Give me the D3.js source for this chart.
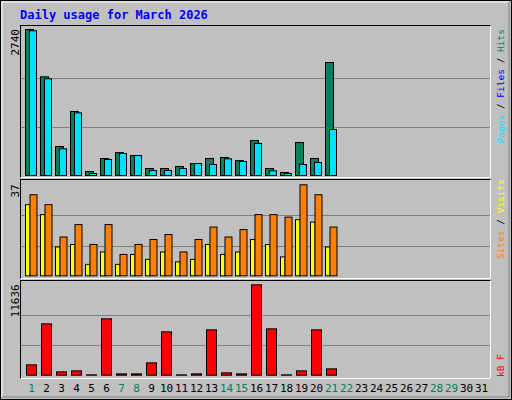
<!DOCTYPE html><html><head><meta charset="utf-8"><script src="https://cdn.jsdelivr.net/npm/d3@7"></script>
<style>body{margin:0;background:#fff}svg text{font-family:"DejaVu Sans Mono",monospace}</style></head><body><div id="c"></div>
<script>
const days=d3.range(1,32);
const weekend=[1,7,8,14,15,21,22,28,29];
const hits=[2740,1858,559,1212,93,336,447,391,149,149,186,242,336,354,298,671,149,75,634,336,2125];
const files=[2716,1821,516,1187,56,317,429,391,112,112,149,242,224,330,280,615,106,56,224,261,876];
const pages=[12,15,12,10,4,8,8,6,4,4,5,6,8,8,6,14,12,4,20,14,15];
const visits=[33,29,16,21,13,21,9,13,15,17,10,15,20,16,19,25,25,24,37,33,20];
const sites=[29,25,12,13,5,10,5,9,7,10,6,7,13,9,10,15,13,8,23,22,12];
const kbytes=[1444,6667,552,679,170,7304,297,297,1699,5648,170,297,5903,425,297,11636,6030,170,679,5903,934];
const maxLabels=["2740","37","11636"];

const svg=d3.select("#c").append("svg").attr("width",512).attr("height",400);
svg.append("rect").attr("x",0.5).attr("y",0.5).attr("width",511).attr("height",399).attr("fill","#c0c0c0").attr("stroke","#000");
svg.append("path").attr("d","M2,397V2H509").attr("fill","none").attr("stroke","#fff");
svg.append("path").attr("d","M2,397H509V2").attr("fill","none").attr("stroke","#808080");
svg.append("text").attr("x",20).attr("y",19).attr("fill","#0000ff").attr("font-size",12).attr("font-weight","bold").text("Daily usage for March 2026");

const x=d3.scaleBand().domain(days).range([24,489]);
const panels=[{y0:25,y1:178,top:29,base:176,max:2740},{y0:179,y1:279,top:184.3,base:276.3,max:37},{y0:280,y1:379,top:284.3,base:375.7,max:11636}];
panels.forEach((p,i)=>{
  svg.append("rect").attr("x",20.5).attr("y",p.y0+0.5).attr("width",470).attr("height",p.y1-p.y0-1).attr("fill","#c0c0c0").attr("stroke","#000");
  svg.append("path").attr("d",`M20.5,${p.y1-0.5}H490.5V${p.y0+0.5}`).attr("fill","none").attr("stroke","#fff");
  p.s=d3.scaleLinear().domain([0,p.max]).range([p.base,p.top]);
  [p.max/3,2*p.max/3].forEach(v=>svg.append("line").attr("x1",21).attr("x2",490).attr("y1",Math.round(p.s(v))+0.5).attr("y2",Math.round(p.s(v))+0.5).attr("stroke","#808080"));
  svg.append("text").attr("transform",`translate(19,${p.top}) rotate(-90)`).attr("text-anchor","end").attr("font-size",11).attr("fill","#000").text(maxLabels[i]);
});
function bars(data,s,off,w,fill){
  svg.append("g").selectAll("rect").data(data).join("rect")
   .attr("x",(d,i)=>x(i+1)+off+0.5).attr("width",w).attr("y",d=>s(d)+0.5).attr("height",d=>Math.max(0,s(0)-s(d)-1))
   .attr("fill",fill).attr("stroke","#000");
}
bars(hits,panels[0].s,1,8,"#00805c");
bars(files,panels[0].s,5,7,"#00e0ff");
bars(pages,panels[0].s,1,2,"#0000c0");
bars(sites,panels[1].s,1,4.5,"#ffff00");
bars(visits,panels[1].s,5.5,7,"#ff8000");
bars(kbytes,panels[2].s,2,10,"#ff0000");

svg.append("g").selectAll("text").data(days).join("text").attr("x",d=>x(d)+x.bandwidth()/2).attr("y",392).attr("text-anchor","middle").attr("font-size",11)
 .attr("fill",d=>weekend.includes(d)?"#00805c":"#000").text(d=>d);

function side(y,anchor,parts){
  const t=svg.append("text").attr("transform",`translate(504,${y}) rotate(-90)`).attr("font-size",9.5).attr("text-anchor",anchor);
  parts.forEach(([s,c])=>t.append("tspan").attr("fill",c).text(s));
}
side(29,"end",[["Pages","#00e0ff"],[" / ","#000"],["Files","#0000ff"],[" / ","#000"],["Hits","#00805c"]]);
side(179,"end",[["Sites","#ff8000"],[" / ","#000"],["Visits","#ffff00"]]);
side(377,"start",[["kB F","#ff0000"]]);
</script></body></html>
